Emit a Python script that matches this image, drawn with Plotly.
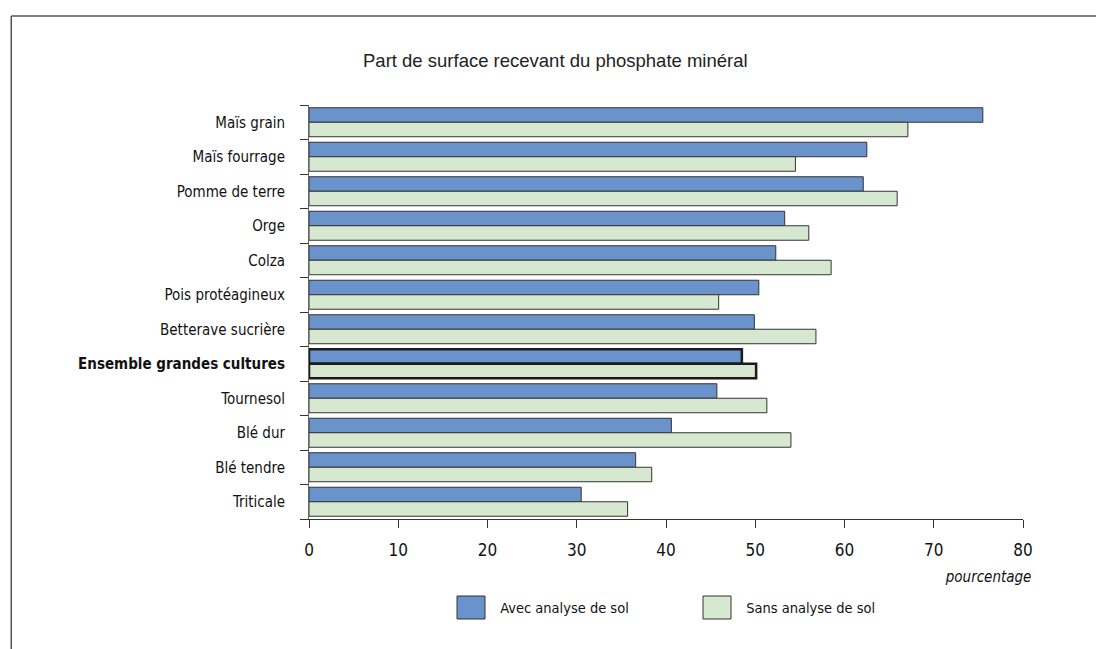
import plotly.graph_objects as go

# données (pourcentage de surface)
cultures = ['Maïs grain', 'Maïs fourrage', 'Pomme de terre', 'Orge', 'Colza',
            'Pois protéagineux', 'Betterave sucrière', 'Ensemble grandes cultures',
            'Tournesol', 'Blé dur', 'Blé tendre', 'Triticale']
avec_analyse = [75.5, 62.5, 62.1, 53.3, 52.3, 50.4, 49.9, 48.5, 45.7, 40.6, 36.6, 30.5]
sans_analyse = [67.1, 54.5, 65.9, 56.0, 58.5, 45.9, 56.8, 50.1, 51.3, 54.0, 38.4, 35.7]
x_ticks = [0, 10, 20, 30, 40, 50, 60, 70, 80]

BLEU = '#6b93cb'
VERT = '#d7e8d1'
POLICE = 'DejaVu Sans, sans-serif'

# bordure plus épaisse pour la ligne "Ensemble"
largeurs = [2.5 if c.startswith('Ensemble') else 1 for c in cultures]
couleurs_bord = ['#1a1a1a' if c.startswith('Ensemble') else '#333333' for c in cultures]
labels = ['<b>' + c + '</b>' if c.startswith('Ensemble') else c for c in cultures]

fig = go.Figure()
fig.add_trace(go.Bar(y=cultures, x=avec_analyse, orientation='h', name='Avec analyse de sol',
                     marker=dict(color=BLEU, line=dict(color=couleurs_bord, width=largeurs))))
fig.add_trace(go.Bar(y=cultures, x=sans_analyse, orientation='h', name='Sans analyse de sol',
                     marker=dict(color=VERT, line=dict(color=couleurs_bord, width=largeurs))))

fig.update_layout(
    width=1096, height=649,
    margin=dict(l=309, r=73, t=105, b=130),
    paper_bgcolor='white', plot_bgcolor='white',
    barmode='group', bargap=0.16, bargroupgap=0,
    showlegend=False,
    font=dict(family=POLICE, color='#111111'),
)
fig.update_xaxes(range=[0, 80], tickvals=x_ticks, showgrid=False, zeroline=False,
                 showline=True, linecolor='#333333', linewidth=1,
                 ticks='outside', ticklen=8, tickcolor='#333333',
                 tickfont=dict(family=POLICE, size=17, color='#111111'),
                 ticklabelstandoff=8)
fig.update_yaxes(autorange='reversed', categoryorder='array', categoryarray=cultures,
                 tickvals=cultures, ticktext=labels, tickson='boundaries',
                 showgrid=False, zeroline=False, showline=True, linecolor='#666666', linewidth=1,
                 ticks='outside', ticklen=8, tickcolor='#333333',
                 tickfont=dict(family=POLICE, size=15, color='#111111'),
                 ticklabelstandoff=20)

# titre
fig.add_annotation(text='Part de surface recevant du phosphate minéral', xref='paper', yref='paper',
                   x=0.345, y=1.108, xanchor='center', yanchor='middle', showarrow=False,
                   font=dict(family='Liberation Sans, Arial, sans-serif', size=18.5, color='#222222'))
# unité (centrée : la police est condensée après coup)
fig.add_annotation(text='<i>pourcentage</i>', xref='paper', yref='paper', x=(988 - 309) / 714, y=-0.14,
                   xanchor='center', yanchor='middle', showarrow=False,
                   font=dict(family=POLICE, size=15, color='#111111'))

# cadre
fig.add_shape(type='line', xref='paper', yref='paper', x0=-0.417, x1=-0.417, y0=-0.32, y1=1.215,
              line=dict(color='#555555', width=1.5))
fig.add_shape(type='line', xref='paper', yref='paper', x0=-0.417, x1=1.2, y0=1.215, y1=1.215,
              line=dict(color='#555555', width=1.5))

# légende manuelle
legende = [('Avec analyse de sol', BLEU, 457), ('Sans analyse de sol', VERT, 703)]
for nom, couleur, px0 in legende:
    x0 = (px0 - 309) / 714
    x1 = (px0 + 28 - 309) / 714
    fig.add_shape(type='rect', xref='paper', yref='paper', x0=x0, x1=x1,
                  y0=(519 - 619) / 414, y1=(519 - 596) / 414,
                  fillcolor=couleur, line=dict(color='#333333', width=1))
    fig.add_annotation(text=nom, xref='paper', yref='paper', x=(px0 + 43 + 64 - 309) / 714,
                       y=(519 - 608) / 414, xanchor='center', yanchor='middle', showarrow=False,
                       font=dict(family=POLICE, size=14.5, color='#111111'))

# marge de page nulle + police condensée (DejaVu Sans Condensed) pour les libellés
js = """
document.body.style.margin = '0';
var st = document.createElement('style');
st.innerHTML = '.main-svg text { font-stretch: condensed; }';
document.head.appendChild(st);
"""
fig.write_html('out.html', config={'displayModeBar': False}, post_script=js)
